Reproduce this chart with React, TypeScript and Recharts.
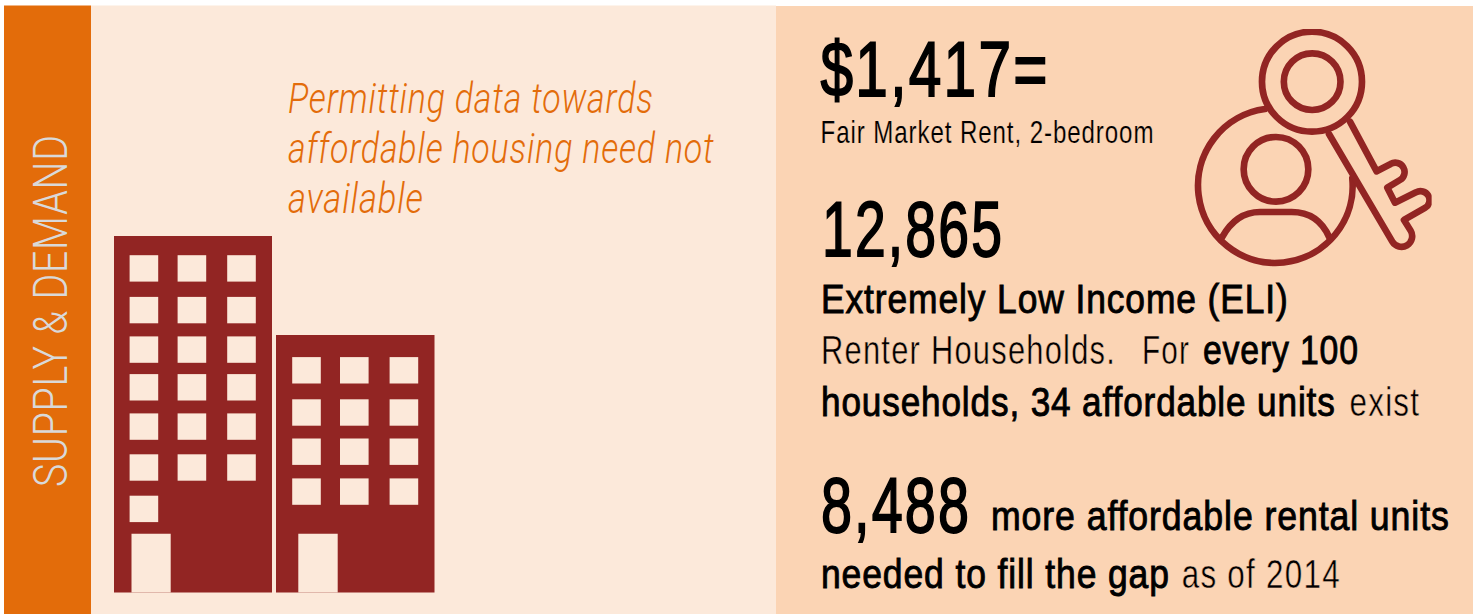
import React from "react";
import { ScatterChart, Scatter, XAxis, YAxis, ReferenceArea } from "recharts";

const WIDTH = 1473;
const HEIGHT = 614;
const ORANGE = "#E36C0A";
const LIGHT = "#FCE9DA";
const PEACH = "#FBD4B4";
const RED = "#922523";
const NARROW = "'Liberation Sans Narrow', 'Liberation Sans', sans-serif";
const ROBOTO = "Roboto, sans-serif";

// Page panels: [x1, x2, y1, y2, colour]
const panels: [number, number, number, number, string][] = [
  [4, 91, 5.5, 614, ORANGE],
  [91, 776, 5.5, 614, LIGHT],
  [776, 1473, 6, 614, PEACH],
];
// Buildings
const towers: [number, number, number, number][] = [
  [114, 272, 236, 592.5],
  [276, 434.5, 335, 592.5],
];
const doors: [number, number, number, number][] = [
  [131.5, 170.7, 533.7, 592.5],
  [298.3, 337.7, 533.7, 592.5],
];
// Window centres
const tallCols = [143.9, 191.9, 241.5];
const tallRows = [268.4, 310.1, 349.6, 387.3, 426.6, 467.5];
const tallExtra = [{ x: 143.9, y: 508.9 }];
const lowCols = [306.5, 354.3, 403.9];
const lowRows = [370.3, 412.5, 451.7, 491.6];
const windows = [
  ...tallRows.flatMap((y) => tallCols.map((x) => ({ x, y }))),
  ...tallExtra,
  ...lowRows.flatMap((y) => lowCols.map((x) => ({ x, y }))),
];

const WindowShape = (p: any) => (
  <rect x={p.cx - 14.3} y={p.cy - 13.2} width={28.6} height={26.4} fill={LIGHT} />
);

const blackTexts = [
  { t: "$1,417=", x: 820.5, y: 96, w: 227, size: 78, weight: "big" },
  { t: "Fair Market Rent, 2-bedroom", x: 820.5, y: 142.7, w: 333, size: 32, weight: "small" },
  { t: "12,865", x: 822, y: 256, w: 180, size: 78, weight: "big" },
  { t: "Extremely Low Income (ELI)", x: 821, y: 313.3, w: 467, size: 40, weight: "bold" },
  { t: "Renter Households.", x: 821, y: 364, w: 294, size: 40, weight: "light" },
  { t: "For", x: 1142, y: 364, w: 47, size: 40, weight: "light" },
  { t: "every 100", x: 1203, y: 364, w: 155, size: 40, weight: "bold" },
  { t: "households, 34 affordable units", x: 821, y: 416, w: 514, size: 40, weight: "bold" },
  { t: "exist", x: 1349.5, y: 416, w: 69.5, size: 40, weight: "light" },
  { t: "8,488", x: 821, y: 531.7, w: 148, size: 78, weight: "big" },
  { t: "more affordable rental units", x: 991, y: 530, w: 458, size: 40, weight: "bold" },
  { t: "needed to fill the gap", x: 821, y: 588, w: 348, size: 40, weight: "bold" },
  { t: "as of 2014", x: 1181.7, y: 588, w: 158, size: 40, weight: "light" },
];
const orangeLines = [
  { t: "Permitting data towards", x: 288, y: 112.8, w: 365 },
  { t: "affordable housing need not", x: 288, y: 162.5, w: 426 },
  { t: "available", x: 288, y: 213, w: 135 },
];
const sideTitle = [{ t: "SUPPLY & DEMAND", x: 66.7, y: 487, w: 352 }];
const iconAnchor = [{ x: 1180, y: 10 }];

// Horizontal squeeze that brings a text to the width it has in the reference.
const measureCtx = document.createElement("canvas").getContext("2d") as any;
function squeeze(t: string, font: string, spacing: number, w: number) {
  measureCtx.font = font;
  measureCtx.letterSpacing = `${spacing}px`;
  return w / (measureCtx.measureText(t).width - spacing);
}

const BlackText = (p: any) => {
  const { t, w, size, weight } = p.payload;
  const spacing = weight === "big" ? 3 : weight === "bold" ? 1 : size > 35 ? 1.6 : 1.2;
  const sx = squeeze(t, `${size}px ${NARROW}`, spacing, w);
  const strokeColor = weight === "big" || weight === "bold" ? "#000" : PEACH;
  const strokeW = weight === "big" ? 1.8 : weight === "bold" ? 0.9 : weight === "small" ? 0.2 : 0.5;
  return (
    <text
      transform={`translate(${p.cx} ${p.cy}) scale(${sx} 1)`}
      fontFamily={NARROW}
      fontSize={size}
      letterSpacing={spacing}
      fill="#000"
      stroke={strokeColor}
      strokeWidth={strokeW}
    >
      {t}
    </text>
  );
};
const OrangeText = (p: any) => {
  const { t, w } = p.payload;
  const sx = squeeze(t, `italic 300 42px ${ROBOTO}`, 1, w);
  return (
    <text
      transform={`translate(${p.cx} ${p.cy}) scale(${sx} 1)`}
      fontFamily={ROBOTO}
      fontWeight={300}
      fontStyle="italic"
      fontSize={42}
      letterSpacing={1}
      fill={ORANGE}
    >
      {t}
    </text>
  );
};
const SideText = (p: any) => {
  const { t, w } = p.payload;
  const sx = squeeze(t, `300 48px ${ROBOTO}`, 1, w);
  return (
    <text
      transform={`translate(${p.cx} ${p.cy}) rotate(-90) scale(${sx} 1)`}
      fontFamily={ROBOTO}
      fontWeight={300}
      fontSize={48}
      letterSpacing={1}
      fill="#D9D9D9"
    >
      {t}
    </text>
  );
};
const IconShape = (p: any) => (
  <g transform={`translate(${p.cx} ${p.cy}) scale(0.3333)`}>
    <clipPath id="icon-crop">
      <rect x={0} y={57} width={755} height={800} />
    </clipPath>
    <g clipPath="url(#icon-crop)" fill="none" stroke={RED} strokeWidth={20} strokeLinejoin="round" strokeLinecap="round">
      <circle cx={396} cy={215} r={150} />
      <circle cx={396.5} cy={215} r={85} />
      <path d="M255 297 A232 232 0 1 0 517 505" />
      <circle cx={288} cy={478} r={97} />
      <path d="M126 682 C155 630 195 606 240 606 L335 606 C385 606 425 630 448 682" />
      <path d="M447 372 L637 695 A32 32 0 0 0 692 662 L672 630 L735 594 A27 27 0 0 0 708 547 L645 578 L622 533 L660 510 A27 27 0 0 0 632 462 L590 484 L510 335" />
    </g>
  </g>
);

export default function App() {
  return (
    <div style={{ position: "fixed", left: 0, top: 0, width: WIDTH, height: HEIGHT, background: "#fff" }}>
      <ScatterChart width={WIDTH} height={HEIGHT} margin={{ top: 0, right: 0, bottom: 0, left: 0 }}>
        <XAxis type="number" dataKey="x" domain={[0, WIDTH]} hide />
        <YAxis type="number" dataKey="y" domain={[0, HEIGHT]} reversed hide />
        {panels.map(([x1, x2, y1, y2, c]) => (
          <ReferenceArea key={x1} x1={x1} x2={x2} y1={y1} y2={y2} fill={c} fillOpacity={1} stroke="none" />
        ))}
        {towers.map(([x1, x2, y1, y2]) => (
          <ReferenceArea key={x1} x1={x1} x2={x2} y1={y1} y2={y2} fill={RED} fillOpacity={1} stroke="none" />
        ))}
        {doors.map(([x1, x2, y1, y2]) => (
          <ReferenceArea key={x1} x1={x1} x2={x2} y1={y1} y2={y2} fill={LIGHT} fillOpacity={1} stroke="none" />
        ))}
        <Scatter data={windows} shape={WindowShape} isAnimationActive={false} />
        <Scatter data={iconAnchor} shape={IconShape} isAnimationActive={false} />
        <Scatter data={sideTitle} shape={SideText} isAnimationActive={false} />
        <Scatter data={orangeLines} shape={OrangeText} isAnimationActive={false} />
        <Scatter data={blackTexts} shape={BlackText} isAnimationActive={false} />
      </ScatterChart>
    </div>
  );
}
